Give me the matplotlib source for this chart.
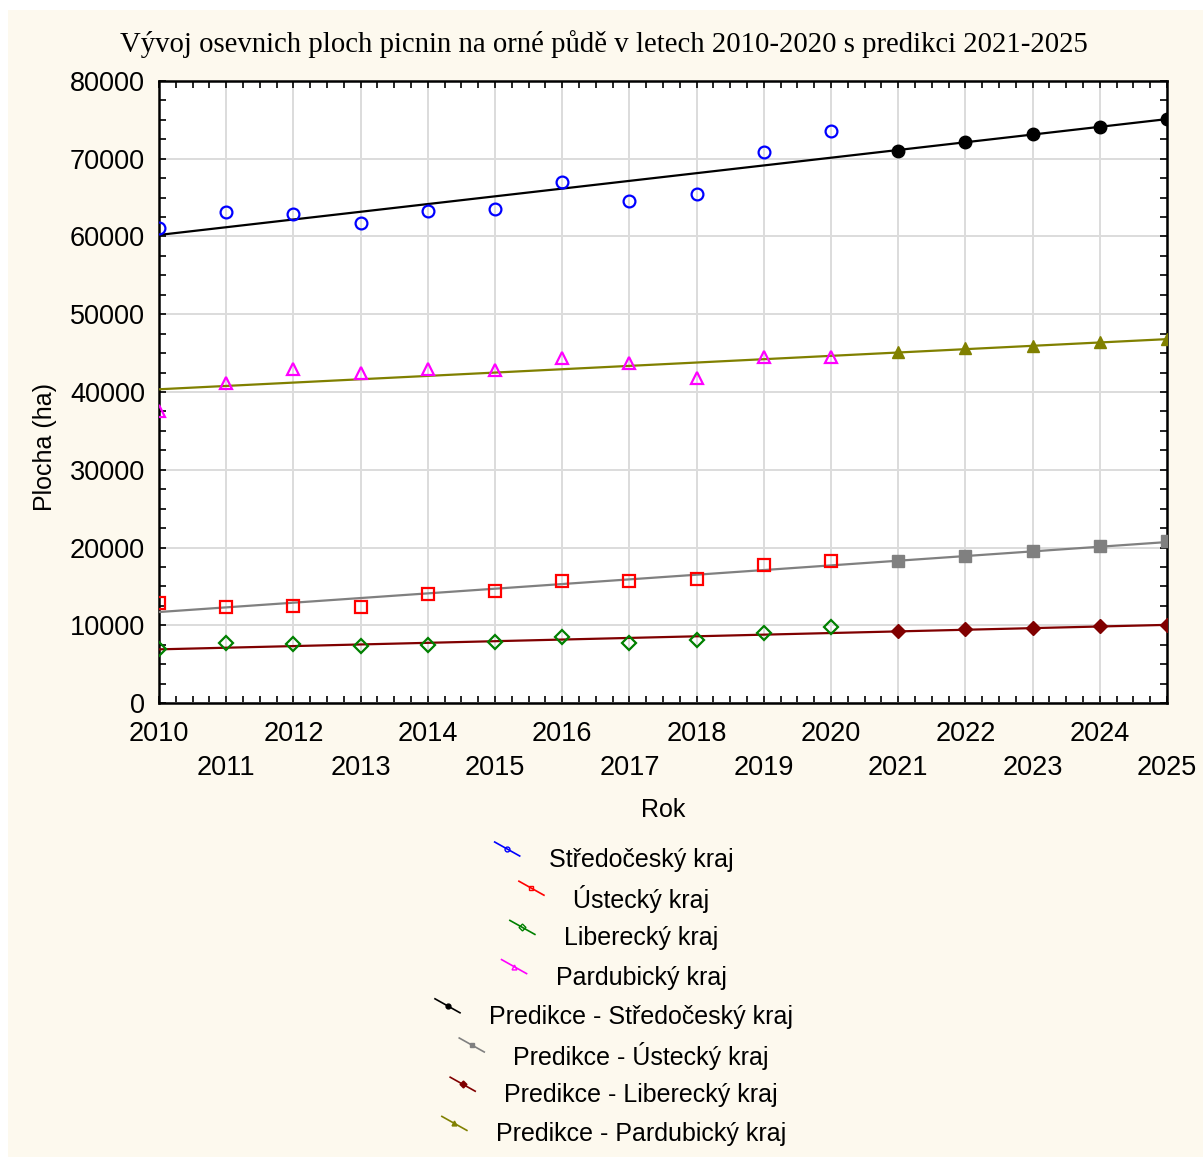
import matplotlib
matplotlib.use("Agg")
import matplotlib.pyplot as plt
from matplotlib.patches import Rectangle
from matplotlib.lines import Line2D
from matplotlib.ticker import MultipleLocator

# --- DATA ---
years_obs = [2010, 2011, 2012, 2013, 2014, 2015, 2016, 2017, 2018, 2019, 2020]
years_pred = [2021, 2022, 2023, 2024, 2025]
trend_years = [2010, 2025]

stredocesky = [61100, 63100, 62850, 61800, 63300, 63500, 67050, 64600, 65450, 70850, 73600]
ustecky = [12900, 12300, 12500, 12300, 14050, 14450, 15700, 15700, 15900, 17750, 18250]
liberecky = [7000, 7750, 7550, 7350, 7500, 7800, 8500, 7750, 8150, 9000, 9750]
pardubicky = [37500, 41100, 42900, 42450, 42900, 42850, 44350, 43700, 41750, 44550, 44450]

pred_stredocesky = [71050, 72150, 73200, 74050, 75100]
pred_ustecky = [18200, 18950, 19550, 20250, 20800]
pred_liberecky = [9250, 9500, 9700, 9900, 10050]
pred_pardubicky = [45150, 45600, 45950, 46450, 46800]

trend_stredocesky = [60200, 75100]
trend_ustecky = [11700, 20700]
trend_liberecky = [6900, 10050]
trend_pardubicky = [40350, 46800]

legend_labels = ["Středočeský kraj", "Ústecký kraj", "Liberecký kraj", "Pardubický kraj",
                 "Predikce - Středočeský kraj", "Predikce - Ústecký kraj",
                 "Predikce - Liberecký kraj", "Predikce - Pardubický kraj"]

# --- STYLE ---
W, H = 1203, 1157
plt.rcParams['font.family'] = ['Liberation Sans', 'DejaVu Sans']
FS = 18
TICK_FS = 19.5

fig = plt.figure(figsize=(W / 100, H / 100), dpi=100, facecolor='white')
fig.patches.append(Rectangle((8 / W, 0), 1, (H - 10) / H, transform=fig.transFigure,
                             facecolor='#fdf9ee', edgecolor='none', zorder=-10))

ax = fig.add_axes([159 / W, (H - 703) / H, (1167 - 159) / W, (703 - 81) / H])
ax.set_facecolor('white')

# trend lines
LW = 1.6
ax.plot(trend_years, trend_stredocesky, color='black', lw=LW, zorder=3)
ax.plot(trend_years, trend_pardubicky, color='#808000', lw=LW, zorder=3)
ax.plot(trend_years, trend_ustecky, color='#808080', lw=LW, zorder=3)
ax.plot(trend_years, trend_liberecky, color='#800000', lw=LW, zorder=3)

# observed
ms = 8.5
ax.plot(years_obs, stredocesky, 'o', ms=ms, mfc='none', mec='#0000ff', mew=1.6, zorder=4)
ax.plot(years_obs, ustecky, 's', ms=ms, mfc='none', mec='#ff0000', mew=1.6, zorder=4)
ax.plot(years_obs, liberecky, 'D', ms=ms - 1.5, mfc='none', mec='#008000', mew=1.6, zorder=4)
ax.plot(years_obs, pardubicky, '^', ms=ms, mfc='none', mec='#ff00ff', mew=1.6, zorder=4)

# predictions
ax.plot(years_pred, pred_stredocesky, 'o', ms=ms + 0.5, color='black', zorder=5)
ax.plot(years_pred, pred_ustecky, 's', ms=ms + 0.5, color='#808080', zorder=5)
ax.plot(years_pred, pred_liberecky, 'D', ms=ms - 1, color='#800000', zorder=5)
ax.plot(years_pred, pred_pardubicky, '^', ms=ms + 0.5, color='#808000', zorder=5)

ax.set_xlim(2010, 2025)
ax.set_ylim(0, 80000)
ax.xaxis.set_major_locator(MultipleLocator(1))
ax.xaxis.set_minor_locator(MultipleLocator(0.25))
ax.yaxis.set_major_locator(MultipleLocator(10000))
ax.yaxis.set_minor_locator(MultipleLocator(2500))
ax.set_xticks(range(2010, 2026))
ax.set_xticklabels([str(y) if y % 2 == 0 else "\n" + str(y) for y in range(2010, 2026)],
                   linespacing=1.4)
ax.tick_params(which='both', direction='in', top=True, right=True, length=5, width=1.2,
               labelsize=TICK_FS)
ax.tick_params(axis='y', pad=10)
ax.tick_params(axis='x', pad=13)
ax.grid(True, which='major', color='#dcdcdc', lw=1.4)
ax.set_axisbelow(True)
for s in ax.spines.values():
    s.set_linewidth(1.8)

ax.text(0.5, (703 - 810) / (703 - 81), "Rok", transform=ax.transAxes,
        ha='center', va='center', fontsize=FS)
ax.text((45 - 159) / 1008, (703 - 447) / (703 - 81), "Plocha (ha)", transform=ax.transAxes,
        ha='center', va='center', rotation=90, fontsize=FS)

fig.text(604 / W, (H - 44) / H,
         "Vývoj osevnich ploch picnin na orné půdě v letech 2010-2020 s predikci 2021-2025",
         ha='center', va='center', fontsize=20.7, family='Liberation Serif')

# --- LEGEND (centered rows with diagonal icons) ---
leg_style = [('o', '#0000ff', 'none'), ('s', '#ff0000', 'none'), ('D', '#008000', 'none'),
             ('^', '#ff00ff', 'none'), ('o', 'black', 'black'), ('s', '#808080', '#808080'),
             ('D', '#800000', '#800000'), ('^', '#808000', '#808000')]
renderer = fig.canvas.get_renderer()
for i, lab in enumerate(legend_labels):
    yc = 860 + i * 39.2
    t = fig.text(641 / W, (H - yc) / H, lab, ha='center', va='center', fontsize=FS)
    bb = t.get_window_extent(renderer)
    x1 = bb.x0 - 29
    x0 = x1 - 25
    yi = yc - 11
    mk, c, fc = leg_style[i]
    fig.add_artist(Line2D([x0 / W, x1 / W], [(H - yi + 7) / H, (H - yi - 7) / H],
                          transform=fig.transFigure, color=c, lw=1.2))
    fig.add_artist(Line2D([(x0 + x1) / 2 / W], [(H - yi) / H], transform=fig.transFigure,
                          marker=mk, ms=3.5, mec=c, mfc=fc, mew=1.0, color=c))

fig.savefig("out.png", dpi=100, facecolor=fig.get_facecolor())
